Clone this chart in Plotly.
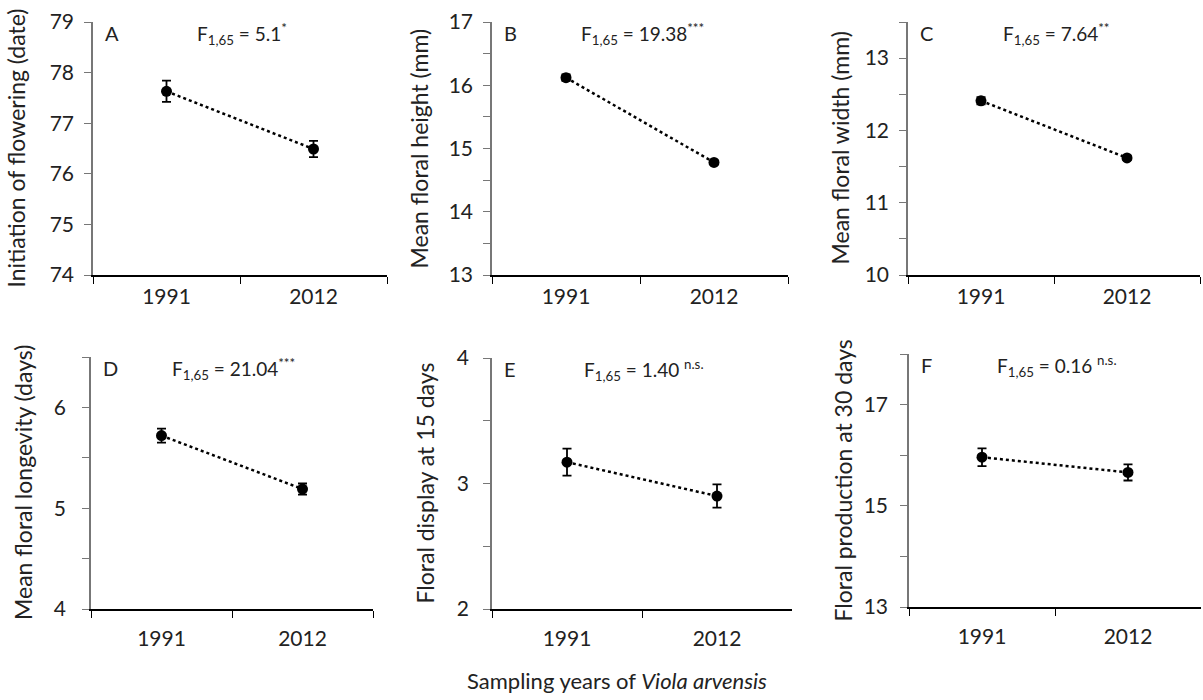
import plotly.graph_objects as go

years = ["1991", "2012"]

panel_letters = ["A", "B", "C", "D", "E", "F"]
y_titles = [
    "Initiation of flowering (date)",
    "Mean floral height (mm)",
    "Mean floral width (mm)",
    "Mean floral longevity (days)",
    "Floral display at 15 days",
    "Floral production at 30 days",
]
stats_text = [
    "F<sub>1,65</sub> = 5.1<sup>*</sup>",
    "F<sub>1,65</sub> = 19.38<sup>***</sup>",
    "F<sub>1,65</sub> = 7.64<sup>**</sup>",
    "F<sub>1,65</sub> = 21.04<sup>***</sup>",
    "F<sub>1,65</sub> = 1.40 <sup>n.s.</sup>",
    "F<sub>1,65</sub> = 0.16 <sup>n.s.</sup>",
]

mean_A = [77.63, 76.49]
se_A = [0.21, 0.16]
mean_B = [16.12, 14.78]
se_B = [0.05, 0.03]
mean_C = [12.41, 11.62]
se_C = [0.05, 0.03]
mean_D = [5.72, 5.19]
se_D = [0.07, 0.055]
mean_E = [3.17, 2.90]
se_E = [0.108, 0.093]
mean_F = [15.96, 15.66]
se_F = [0.175, 0.16]

means = [mean_A, mean_B, mean_C, mean_D, mean_E, mean_F]
ses = [se_A, se_B, se_C, se_D, se_E, se_F]

y_ranges = [[74, 79], [13, 17], [10, 13.5], [4, 6.5], [2, 4], [13, 18]]
y_label_step = [1, 1, 1, 1, 1, 2]
y_minor_step = [None, 0.5, 0.5, 0.5, 0.5, 1]

FW, FH = 1203, 700


def px(x):
    return x / FW


def py(y):
    return 1 - y / FH


# pixel geometry of each panel in the target picture: (left, right, top, bottom)
boxes = [
    (93, 387, 22, 275),
    (492, 788, 22, 275),
    (908, 1200, 22, 275),
    (91, 373, 357, 609),
    (492, 792, 358, 609),
    (909, 1201, 354, 607),
]
ytitle_x = [15, 418, 839, 23, 424, 842]
xlabel_standoff = [2, 2, 2, 10, 10, 10]
ylabel_standoff = [6, 6, 6, 12, 10, 8]

font_family = "Lato, 'Open Sans', sans-serif"
txt_color = "#222222"

fig = go.Figure()
annotations = []

for i in range(6):
    l, r, t, b = boxes[i]
    xa = "x" if i == 0 else f"x{i+1}"
    ya = "y" if i == 0 else f"y{i+1}"
    xk = "xaxis" if i == 0 else f"xaxis{i+1}"
    yk = "yaxis" if i == 0 else f"yaxis{i+1}"
    fig.add_trace(go.Scatter(
        x=years, y=means[i], xaxis=xa, yaxis=ya,
        mode="lines+markers",
        line=dict(color="black", width=2.5, dash="dot"),
        marker=dict(color="black", size=11),
        error_y=dict(type="data", array=ses[i], color="black", thickness=1.8, width=4.5),
        showlegend=False, hoverinfo="skip",
    ))
    lo, hi = y_ranges[i]
    fig.layout[xk] = dict(
        domain=[px(l), min(px(r), 1.0)], anchor=ya, type="category",
        categoryorder="array", categoryarray=years,
        range=[-0.5, 1.5], tickson="boundaries", ticks="outside",
        ticklen=7, tickwidth=1.2, tickcolor="black",
        showline=True, linecolor="black", linewidth=1.5,
        showgrid=False, zeroline=False, fixedrange=True, automargin=False,
        ticklabelstandoff=xlabel_standoff[i],
        tickfont=dict(family=font_family, size=21, color=txt_color),
    )
    yax = dict(
        domain=[py(b), py(t)], anchor=xa,
        range=[lo, hi], tickmode="linear", tick0=lo, dtick=y_label_step[i],
        ticks="outside", ticklen=7, tickwidth=1.2, tickcolor="#777777",
        showline=True, linecolor="#777777", linewidth=1.5,
        showgrid=False, zeroline=False, fixedrange=True, automargin=False,
        ticklabelstandoff=ylabel_standoff[i],
        tickfont=dict(family=font_family, size=21, color=txt_color),
    )
    if y_minor_step[i] is not None:
        yax["minor"] = dict(tickmode="linear", tick0=lo, dtick=y_minor_step[i],
                            ticks="outside", ticklen=7, tickwidth=1.2,
                            tickcolor="#777777", showgrid=False)
    fig.layout[yk] = yax
    # panel letter
    annotations.append(dict(
        text=panel_letters[i], xref="paper", yref="paper",
        x=px(l + 10), y=py(t - 3), xanchor="left", yanchor="top",
        showarrow=False, font=dict(family=font_family, size=20, color=txt_color),
    ))
    # statistics
    annotations.append(dict(
        text=stats_text[i], xref="paper", yref="paper",
        x=px(l + 0.5 * (r - l) + 2), y=py(t - 4), xanchor="center", yanchor="top",
        showarrow=False, font=dict(family=font_family, size=19, color=txt_color),
    ))
    # y-axis title
    annotations.append(dict(
        text=y_titles[i], xref="paper", yref="paper",
        x=px(ytitle_x[i]), y=py((t + b) / 2), xanchor="center", yanchor="middle",
        textangle=-90, showarrow=False,
        font=dict(family=font_family, size=23, color=txt_color),
    ))

annotations.append(dict(
    text="Sampling years of <i>Viola arvensis</i>", xref="paper", yref="paper",
    x=px(617), y=py(680), xanchor="center", yanchor="middle",
    showarrow=False, font=dict(family=font_family, size=22, color=txt_color),
))

fig.update_layout(
    width=FW, height=FH,
    margin=dict(l=0, r=0, t=0, b=0, autoexpand=False),
    paper_bgcolor="white", plot_bgcolor="white",
    annotations=annotations,
)

fig.write_html(
    "out.html",
    config={"displayModeBar": False},
    post_script="document.body.style.margin='0px';document.body.style.overflow='hidden';",
)
